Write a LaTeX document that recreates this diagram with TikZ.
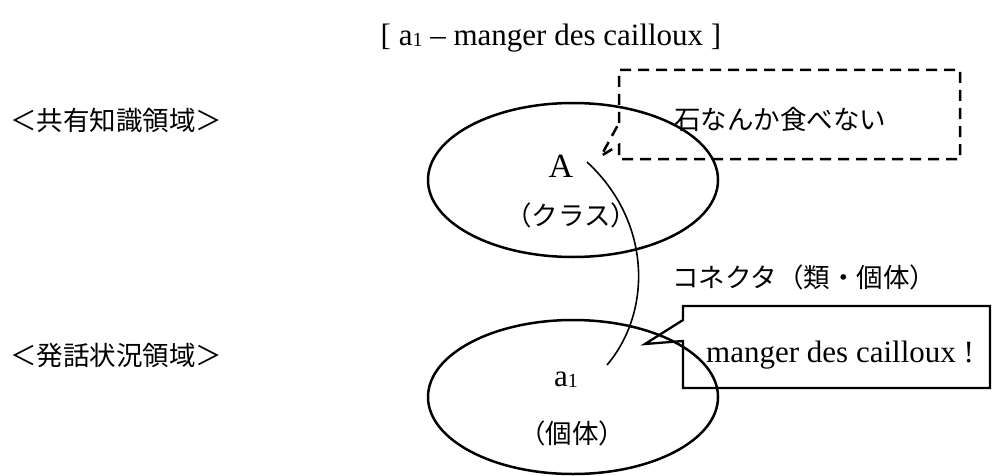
\documentclass[tikz,border=0pt]{standalone}
\usepackage{fontspec}
\setmainfont{Liberation Serif}
\newfontfamily\jp{Noto Sans CJK JP}
\usetikzlibrary{shapes.geometric}
\newcommand\lowone{\raisebox{-0.04em}{\fontsize{20}{20}\selectfont 1}}
\tikzset{
  oval/.style={draw, ellipse, line width=2.5pt, minimum width=290pt, minimum height=154pt, inner sep=0pt},
  jtext/.style={font=\jp\fontsize{26.5}{30}\selectfont, inner sep=0pt},
  ltext/.style={font=\fontsize{31}{36}\selectfont, inner sep=0pt},
  bubble/.style={line width=2.3pt, line join=miter},
  dbubble/.style={line width=2.5pt, dash pattern=on 11pt off 7pt},
  conn/.style={line width=1.6pt}
}
\begin{document}
\begin{tikzpicture}[x=1pt,y=-1pt]
\useasboundingbox (0,0) rectangle (995,476);
% title
\node[ltext] (title) at (551,38) {[ a\lowone{} -- manger des cailloux ]};
% region labels
\node[jtext, anchor=west] (shared) at (10,120) {＜共有知識領域＞};
\node[jtext, anchor=west] (utter) at (10,355) {＜発話状況領域＞};
% ellipses
\node[oval] (top) at (573,180) {};
\node[oval] (bot) at (573,397) {};
\node[ltext, font=\fontsize{34}{38}\selectfont] (A) at (561,166) {A};
\node[jtext] (cls) at (571,215) {（クラス）};
\node[ltext] (a1) at (566,380) {a\lowone};
\node[jtext] (ind) at (572,433) {（個体）};
% connector
\coordinate (cs) at (587,162);
\coordinate (ce) at (607,365);
\draw[conn] (cs) .. controls (652,222) and (652,312) .. (ce);
\node[jtext, anchor=west] (conlab) at (672,277) {コネクタ（類・個体）};
% dashed callout
\coordinate (d1) at (619,123);
\coordinate (dt) at (601,156);
\coordinate (d2) at (619,145);
\draw[dbubble] (d1) -- (619,70) -- (960,70) -- (960,159) -- (619,159) -- (d2) -- (dt) -- cycle;
\node[jtext, anchor=west] (thought) at (674,119) {石なんか食べない};
% solid callout
\coordinate (s1) at (683,320);
\coordinate (st) at (645,344);
\coordinate (s2) at (683,341);
\draw[bubble] (s1) -- (683,306) -- (990,306) -- (990,388) -- (683,388) -- (s2) -- (st) -- cycle;
\node[ltext, anchor=west] (speech) at (706,355) {manger des cailloux !};
\end{tikzpicture}
\end{document}
